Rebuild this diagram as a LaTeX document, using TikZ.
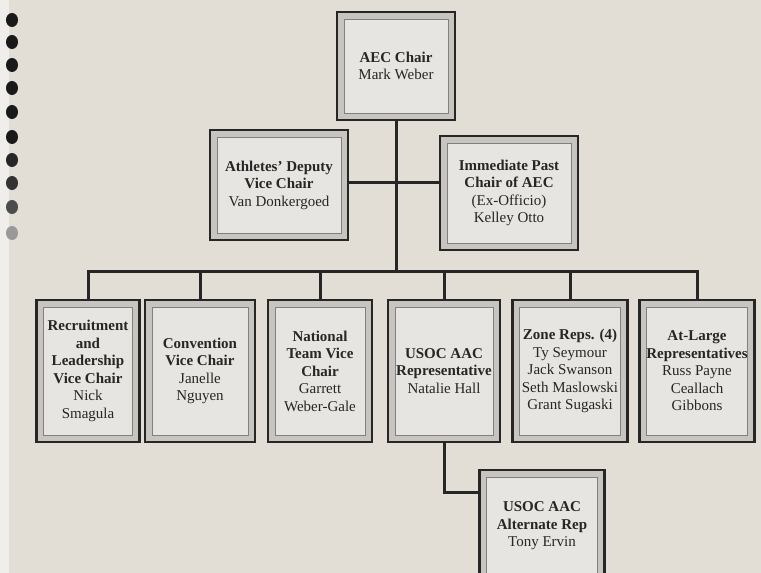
\documentclass[tikz,border=0pt]{standalone}
\usepackage{fontspec}
\setmainfont{Liberation Serif}
\usetikzlibrary{calc}

\definecolor{paper}{RGB}{226,222,214}
\definecolor{paperedge}{RGB}{240,238,235}
\definecolor{framegray}{RGB}{200,197,193}
\definecolor{boxfill}{RGB}{231,229,225}

\begin{document}
\begin{tikzpicture}[x=1pt, y=-1pt, font=\fontsize{15}{17.5}\selectfont,
  box/.style={draw=black!85, line width=2.5pt, fill=framegray, inner sep=0pt,
    align=center, text=black!85,
    path picture={
      \draw[line width=0.8pt, draw=black!50, fill=boxfill]
        ([shift={(7pt,7pt)}]path picture bounding box.south west) rectangle
        ([shift={(-7pt,-7pt)}]path picture bounding box.north east);}},
  conn/.style={draw=black!85, line width=3pt}]
\useasboundingbox (0,0) rectangle (761,573);
\clip (0,0) rectangle (761,573);

% paper and binder holes
\fill[paper] (0,0) rectangle (761,573);
\fill[paperedge] (0,0) rectangle (9,573);
\foreach \y/\c in {20/90,42/90,65/90,88/90,112/90,137/90,160/85,183/80,207/70,233/40}
  \fill[black!\c] (12,\y) ellipse (6 and 7);

\coordinate (bus) at (0,271);

\node[box, minimum width=118, minimum height=108] (chair) at (396,66)
  {\textbf{AEC Chair}\\Mark Weber};
\node[box, minimum width=138, minimum height=110] (deputy) at (279,185)
  {\textbf{Athletes' Deputy}\\\textbf{Vice Chair}\\Van Donkergoed};
\node[box, minimum width=138, minimum height=114] (past) at (509,193)
  {\textbf{Immediate Past}\\\textbf{Chair of AEC}\\(Ex-Officio)\\Kelley Otto};

\node[box, minimum width=103, minimum height=142] (rec) at (88,371)
  {\textbf{Recruitment}\\\textbf{and}\\\textbf{Leadership}\\\textbf{Vice Chair}\\Nick\\Smagula};
\node[box, minimum width=110, minimum height=142] (conv) at (200,371)
  {\textbf{Convention}\\\textbf{Vice Chair}\\Janelle\\Nguyen};
\node[box, minimum width=104, minimum height=142] (natl) at (320,371)
  {\textbf{National}\\\textbf{Team Vice}\\\textbf{Chair}\\Garrett\\Weber-Gale};
\node[box, minimum width=112, minimum height=142] (usoc) at (444,371)
  {\textbf{USOC AAC}\\\textbf{Representative}\\Natalie Hall};
\node[box, minimum width=115, minimum height=142] (zone) at (570,371)
  {\textbf{Zone Reps. (4)}\\Ty Seymour\\Jack Swanson\\Seth Maslowski\\Grant Sugaski};
\node[box, minimum width=115, minimum height=142] (large) at (697,371)
  {\textbf{At-Large}\\\textbf{Representatives}\\Russ Payne\\Ceallach\\Gibbons};

\node[box, minimum width=125, minimum height=112] (alt) at (542,526)
  {\textbf{USOC AAC}\\\textbf{Alternate Rep}\\Tony Ervin};

\draw[conn] (chair.south) -- (chair.south |- bus);
\draw[conn] (deputy.east |- 0,182) -- (past.west |- 0,182);
\draw[conn] (rec.north) -- (rec.north |- bus) -- (large.north |- bus) -- (large.north);
\foreach \n in {conv,natl,usoc,zone}
  \draw[conn] (\n.north) -- (\n.north |- bus);
\draw[conn] (usoc.south) |- (alt.west |- 0,492);

\end{tikzpicture}
\end{document}
